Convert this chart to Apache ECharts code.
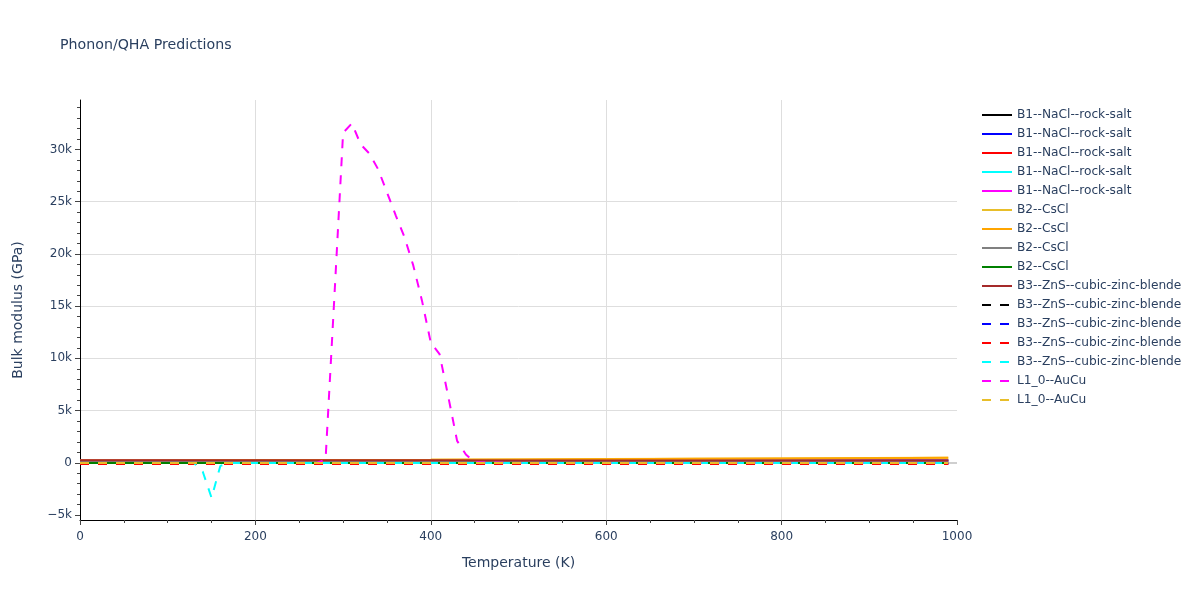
<!DOCTYPE html>
<html><head><meta charset="utf-8">
<script src="https://cdn.jsdelivr.net/npm/echarts@6/dist/echarts.min.js"></script>
<style>html,body{margin:0;padding:0;background:#fff}#c{width:1200px;height:600px}</style>
</head><body><div id="c"></div>
<script>
// Temperatures (K)
const tCoarse = [0,100,200,300,400,500,600,700,800,900,990];
const tCyanDip = [0,100,130,140,150,160,170,200,300,400,500,600,700,800,900,990];
const tSpike = [0,100,200,250,270,280,290,300,310,320,330,340,350,360,370,380,390,400,410,420,430,440,450,500,600,700,800,900,990];

// Bulk modulus values (GPa)
const b1Black   = [205,205,206,207,208,209,210,211,212,213,214];
const b1Blue    = [200,200,201,202,203,204,205,206,207,208,209];
const b1Red     = [196,196,197,198,199,200,201,202,203,204,205];
const b1Cyan    = [192,192,193,194,195,196,197,198,199,200,201];
const b1Magenta = [230,229,228,226,224,222,220,218,216,214,212];
const b2Gold    = [215,226,244,268,294,322,352,384,417,452,490];
const b2Orange  = [210,220,238,262,288,315,345,376,408,442,478];
const b2Gray    = [120,124,130,138,146,155,165,176,187,199,210];
const b2Green   = [-30,-30,-30,-30,-30,-30,-30,-30,-30,-30,-30];
const b3Brown   = [245,242,238,234,230,226,222,218,214,210,206];
const b3BlackD  = [-90,-90,-90,-90,-90,-90,-90,-90,-90,-90,-90];
const b3BlueD   = [-100,-100,-100,-100,-100,-100,-100,-100,-100,-100,-100];
const b3RedD    = [-110,-110,-110,-110,-110,-110,-110,-110,-110,-110,-110];
const b3CyanD   = [-20,-20,-20,-860,-3350,-300,-20,-20,-20,-20,-20,-20,-20,-20,-20,-20];
const l10MagentaD = [-20,-20,-20,-20,-20,300,15800,31600,32500,30500,29600,28100,25900,23700,21600,18900,15500,11500,10400,6300,2100,800,50,-20,-20,-20,-20,-20,-20];
const l10GoldD  = [-30,-30,-30,-30,-30,-30,-30,-30,-30,-30,-30];

// Tick values
const yMajorTicks = [-5000,0,5000,10000,15000,20000,25000,30000];
const xTickValues = [0,200,400,600,800,1000];

const seriesDefs = [
  ['B1--NaCl--rock-salt','#000000','solid',tCoarse,b1Black],
  ['B1--NaCl--rock-salt','#0000ff','solid',tCoarse,b1Blue],
  ['B1--NaCl--rock-salt','#ff0000','solid',tCoarse,b1Red],
  ['B1--NaCl--rock-salt','#00ffff','solid',tCoarse,b1Cyan],
  ['B1--NaCl--rock-salt','#ff00ff','solid',tCoarse,b1Magenta],
  ['B2--CsCl','#e8be2a','solid',tCoarse,b2Gold],
  ['B2--CsCl','#ffa500','solid',tCoarse,b2Orange],
  ['B2--CsCl','#808080','solid',tCoarse,b2Gray],
  ['B2--CsCl','#008000','solid',tCoarse,b2Green],
  ['B3--ZnS--cubic-zinc-blende','#a52a2a','solid',tCoarse,b3Brown],
  ['B3--ZnS--cubic-zinc-blende','#000000','dash',tCoarse,b3BlackD],
  ['B3--ZnS--cubic-zinc-blende','#0000ff','dash',tCoarse,b3BlueD],
  ['B3--ZnS--cubic-zinc-blende','#ff0000','dash',tCoarse,b3RedD],
  ['B3--ZnS--cubic-zinc-blende','#00ffff','dash',tCyanDip,b3CyanD],
  ['L1_0--AuCu','#ff00ff','dash',tSpike,l10MagentaD],
  ['L1_0--AuCu','#e8be2a','dash',tCoarse,l10GoldD]
];

const yMinorTicks = [];
for (let v = -5000; v <= 34000; v += 1000) if (v % 5000 !== 0) yMinorTicks.push(v);

const FONT = 'DejaVu Sans';
const TXT = '#2a3f5f';
const names = [];
const series = [{
  type:'line', data:[], silent:true, yAxisIndex:0, z:0,
  markLine:{silent:true, symbol:'none', label:{show:false}, animation:false, z:0,
    lineStyle:{color:'#cfcfcf', width:2, type:'solid'}, data:[{yAxis:0}]}
}];
seriesDefs.forEach((d,i)=>{
  const uname = d[0] + ' '.repeat(i+1);
  names.push(uname);
  series.push({
    name: uname, type:'line', showSymbol:false, symbol:'none', z:3,
    data: d[3].map((t,j)=>[t, d[4][j]]),
    lineStyle:{color:d[1], width:2, type: d[2]==='dash' ? [9,9] : 'solid'},
    itemStyle:{color:d[1]},
    emphasis:{disabled:true}
  });
});

const chart = echarts.init(document.getElementById('c'));
chart.setOption({
  animation:false,
  backgroundColor:'#ffffff',
  title:{text:'Phonon/QHA Predictions', left:60, top:38, padding:0,
    textStyle:{fontFamily:FONT, fontSize:14.2, fontWeight:'normal', color:TXT}},
  legend:{data:names, orient:'vertical', left:981, top:109, padding:0,
    itemWidth:30, itemHeight:14, itemGap:7,
    itemStyle:{opacity:0},
    formatter: n => n.trim(),
    textStyle:{fontFamily:FONT, fontSize:12.2, color:TXT}},
  grid:{left:80, right:243, top:100, bottom:80, containLabel:false},
  xAxis:{type:'value', min:0, max:1000, interval:200,
    name:'Temperature (K)', nameLocation:'middle', nameGap:36,
    nameTextStyle:{fontFamily:FONT, fontSize:14, color:TXT},
    axisLine:{show:true, onZero:false, lineStyle:{color:'#000', width:1}},
    axisTick:{show:true, length:5, lineStyle:{color:'#444'}},
    minorTick:{show:true, splitNumber:4, length:3, lineStyle:{color:'#444'}},
    axisLabel:{fontFamily:FONT, fontSize:12, color:TXT, margin:11, formatter: v => String(v)},
    splitLine:{show:true, showMinLine:false, showMaxLine:false, lineStyle:{color:'#dedede', width:1}}
  },
  yAxis:[{type:'value', min:-5480, max:34740,
    name:'Bulk modulus (GPa)', nameLocation:'middle', nameGap:55,
    nameTextStyle:{fontFamily:FONT, fontSize:14, color:TXT},
    axisLine:{show:true, onZero:false, lineStyle:{color:'#000', width:1}},
    axisTick:{show:true, length:5, customValues:yMajorTicks, lineStyle:{color:'#444'}},
    axisLabel:{fontFamily:FONT, fontSize:12, color:TXT, margin:8, customValues:yMajorTicks,
      formatter: v => v === 0 ? '0' : (v < 0 ? '\u2212' : '') + Math.abs(v)/1000 + 'k'},
    splitLine:{show:true, showMinLine:false, showMaxLine:false, lineStyle:{color:'#dedede', width:1}}
  },{type:'value', min:-5480, max:34740, position:'left', offset:0,
    axisLine:{show:false}, axisLabel:{show:false}, splitLine:{show:false},
    axisTick:{show:true, length:3, customValues:yMinorTicks, lineStyle:{color:'#444'}}
  }],
  series: series
});
</script></body></html>
